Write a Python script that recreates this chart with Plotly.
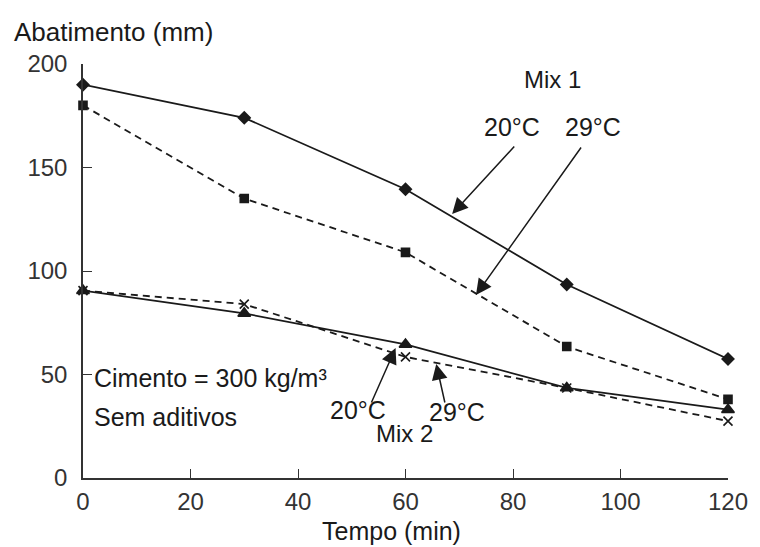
import plotly.graph_objects as go

# Slump loss over time for two concrete mixes at two temperatures
tempo = [0, 30, 60, 90, 120]
mix1_20c = [190, 174, 139.5, 93.5, 57.5]
mix1_29c = [180, 135, 109, 63.5, 38]
mix2_20c = [90.5, 79.5, 64.5, 43.5, 33]
mix2_29c = [90.5, 84, 58.5, 43.5, 27.5]

FONT = "Liberation Sans, Arial, sans-serif"

# Plot area in pixels, used to place free text by pixel position
L, R, T, B = 83, 733, 64, 478
X0, X1, Y0, Y1 = 0, 120, 0, 200


def dx(px):
    return X0 + (px - L) * (X1 - X0) / (R - L)


def dy(py):
    return Y0 + (B - py) * (Y1 - Y0) / (B - T)


fig = go.Figure()

series = [
    (mix1_20c, "solid", "diamond", 9),
    (mix1_29c, "dash", "square", 8),
    (mix2_20c, "solid", "triangle-up", 11),
    (mix2_29c, "dash", "x-thin-open", 9),
]
for vals, dash, sym, size in series:
    fig.add_trace(go.Scatter(
        x=tempo, y=vals, mode="lines+markers",
        line=dict(color="#1a1a1a", width=1.8, dash="7px,5px" if dash == "dash" else "solid"),
        marker=dict(symbol=sym, size=size, color="#1a1a1a",
                    line=dict(color="#1a1a1a", width=1.6)),
        cliponaxis=False, showlegend=False,
    ))

annotations = []


def text(px, py, s, size=25, xanchor="center", ref="data"):
    if ref == "data":
        x, y, xr, yr = dx(px), dy(py), "x", "y"
    else:
        x, y, xr, yr = (px - L) / (R - L), (B - py) / (B - T), "paper", "paper"
    annotations.append(dict(
        x=x, y=y, xref=xr, yref=yr, text=s, showarrow=False,
        xanchor=xanchor, yanchor="middle",
        font=dict(family=FONT, size=size, color="#1a1a1a"),
    ))


def arrow(tx, ty, hx, hy):
    annotations.append(dict(
        x=dx(hx), y=dy(hy), ax=dx(tx), ay=dy(ty),
        xref="x", yref="y", axref="x", ayref="y",
        text="", showarrow=True, arrowhead=2, arrowsize=2.1,
        arrowwidth=1.5, arrowcolor="#1a1a1a", standoff=0,
    ))


text(556, 79, "Mix 1", size=24)
text(515, 127, "20°C")
text(597, 127, "29°C")
arrow(519, 145, 455, 214)
arrow(586, 146, 479, 295)

text(360, 410, "20°C")
text(460, 412, "29°C")
text(407, 433, "Mix 2", size=24)
arrow(373, 404, 398, 348)
arrow(448, 404, 439, 364)

text(92, 378, "Cimento = 300 kg/m³", xanchor="left")
text(92, 417, "Sem aditivos", xanchor="left")

# Axis titles
text(394, 531, "Tempo (min)", ref="paper")
text(11, 32, "Abatimento (mm)", size=26, xanchor="left", ref="paper")

W, H = 760, 547
fig.update_layout(
    width=W, height=H,
    margin=dict(l=L, r=W - R, t=T, b=H - B, pad=0),
    paper_bgcolor="white", plot_bgcolor="white",
    font=dict(family=FONT, size=24, color="#333333"),
    annotations=annotations,
    xaxis=dict(
        range=[X0, X1], tickvals=[0, 20, 40, 60, 80, 100, 120],
        ticks="inside", ticklen=9, tickwidth=1.3, tickcolor="#333333",
        showline=True, linecolor="#333333", linewidth=1.5,
        showgrid=False, zeroline=False, ticklabelstandoff=1,
        tickfont=dict(family=FONT, size=24, color="#333333"),
    ),
    yaxis=dict(
        range=[Y0, Y1], tickvals=[0, 50, 100, 150, 200],
        ticks="inside", ticklen=9, tickwidth=1.3, tickcolor="#333333",
        showline=True, linecolor="#333333", linewidth=1.5,
        showgrid=False, zeroline=False, ticklabelstandoff=9,
        tickfont=dict(family=FONT, size=24, color="#333333"),
    ),
)

fig.write_html("out.html")
